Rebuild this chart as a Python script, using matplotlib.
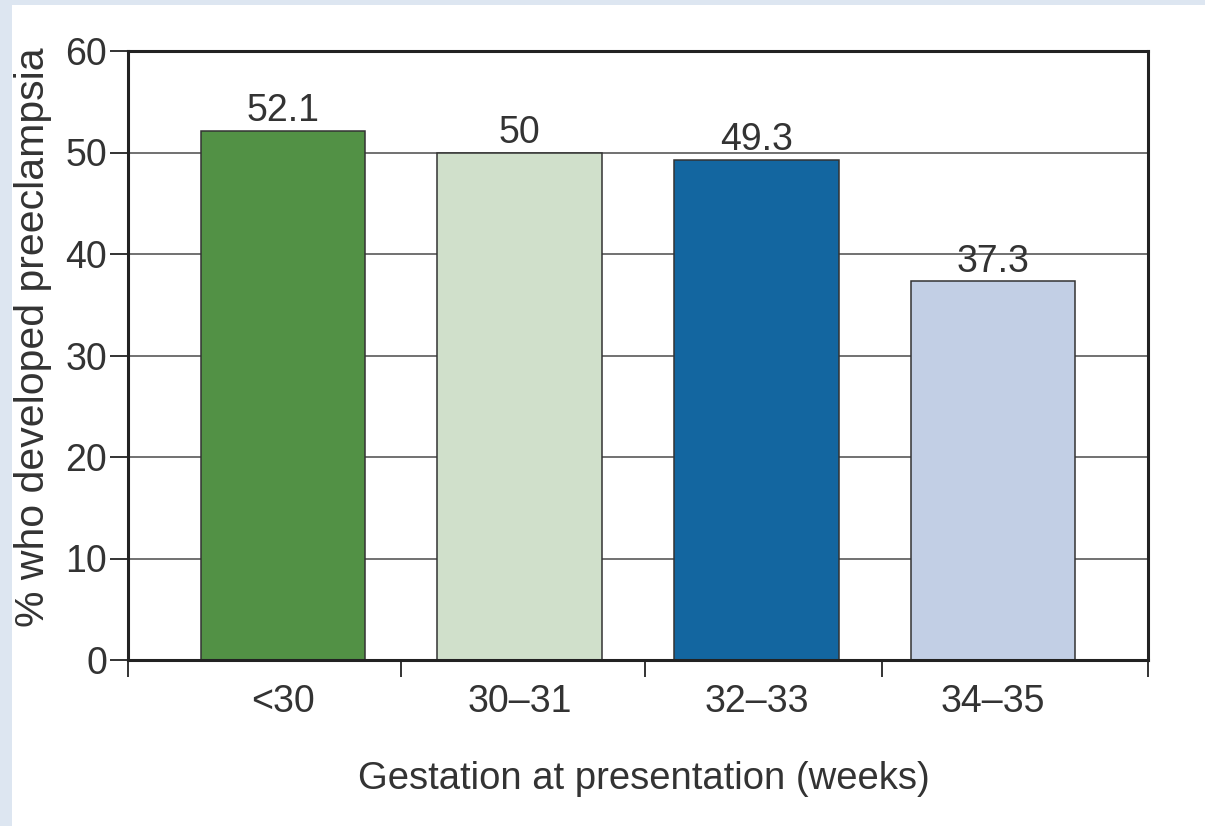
import matplotlib
matplotlib.use("Agg")
import matplotlib.pyplot as plt
from matplotlib.patches import Rectangle

categories = ["<30", "30\u201331", "32\u201333", "34\u201335"]
values = [52.1, 50, 49.3, 37.3]
value_labels = ["52.1", "50", "49.3", "37.3"]
colors = ["#529145", "#d0e0cb", "#1366a0", "#c2cfe5"]
yticks = [0, 10, 20, 30, 40, 50, 60]

plt.rcParams['font.family'] = ['Liberation Sans', 'DejaVu Sans']
W, H = 1205, 826
fig = plt.figure(figsize=(W / 100, H / 100), dpi=100)
fig.patch.set_facecolor("#dde6f1")
fig.patches.append(Rectangle((12 / W, 0), 1 - 12 / W, 1 - 5 / H, transform=fig.transFigure,
                             facecolor="white", edgecolor="none", zorder=-10))

ax = fig.add_axes([128 / W, 1 - 660 / H, (1148 - 128) / W, (660 - 51) / H])
ax.set_facecolor("white")
x = list(range(len(categories)))
ax.bar(x, values, width=0.697, color=colors, edgecolor="#333333", linewidth=1.1, zorder=3)
for xi, v, lab in zip(x, values, value_labels):
    ax.annotate(lab, (xi, v), xytext=(0, 7), textcoords="offset points",
                ha="center", va="baseline", fontsize=27, color="#333333", zorder=4)

ax.set_xlim(-0.655, 3.655)
ax.set_ylim(0, 60)
ax.set_yticks(yticks)
ax.set_yticklabels([str(t) for t in yticks])
ax.yaxis.grid(True, color="#4a4a4a", linewidth=1.1, zorder=1)
ax.set_axisbelow(True)

ax.set_xticks(x)
ax.set_xticklabels(categories)
ax.tick_params(axis="x", which="major", length=0, pad=17, labelsize=27, labelcolor="#333333")
ax.set_xticks([-0.655, 0.5, 1.53, 2.53, 3.655], minor=True)
ax.tick_params(axis="x", which="minor", length=12, width=1.4, color="#333333", direction="out")
ax.tick_params(axis="y", length=13, width=1.4, color="#333333", pad=2, labelsize=27,
               labelcolor="#333333")

for s in ax.spines.values():
    s.set_color("#222222")
    s.set_linewidth(2.2)
    s.set_zorder(5)

ax.set_ylabel("% who developed preeclampsia", fontsize=29.5, color="#333333")
ax.yaxis.set_label_coords(-0.0745, 0.530)
ax.set_xlabel("Gestation at presentation (weeks)", fontsize=27.5, color="#333333", labelpad=30)
ax.xaxis.label.set_x(0.506)

fig.savefig("out.png", dpi=100, facecolor=fig.get_facecolor())
